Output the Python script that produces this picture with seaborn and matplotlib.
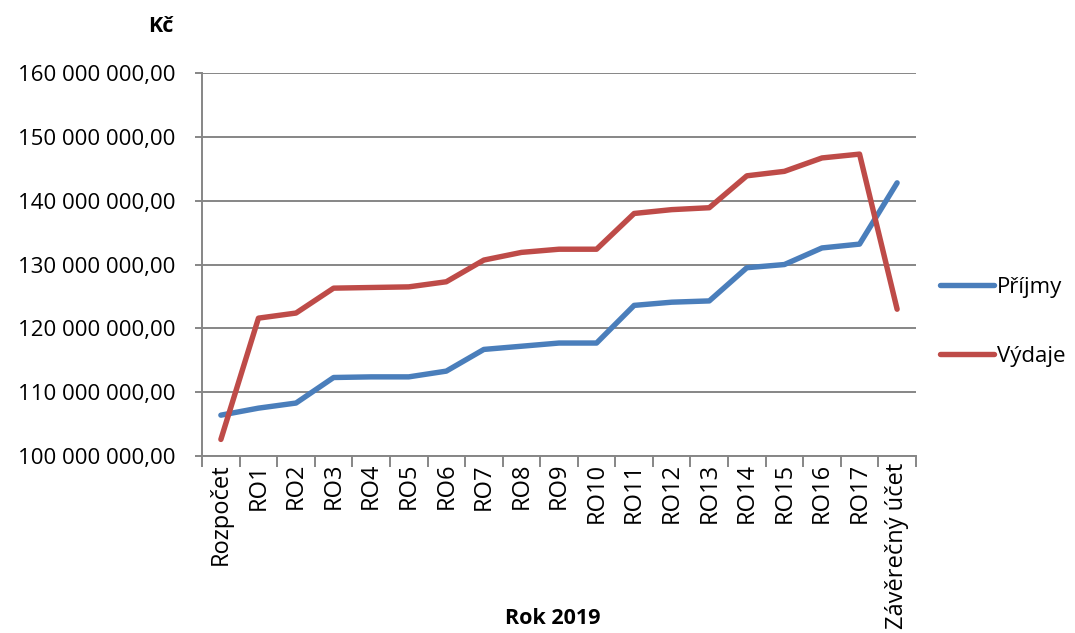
import matplotlib
matplotlib.use("Agg")
import matplotlib.pyplot as plt
from matplotlib.ticker import FuncFormatter, MultipleLocator, FixedLocator
import seaborn as sns
import pandas as pd

categories = ["Rozpočet", "RO1", "RO2", "RO3", "RO4", "RO5", "RO6", "RO7", "RO8",
              "RO9", "RO10", "RO11", "RO12", "RO13", "RO14", "RO15", "RO16", "RO17",
              "Závěrečný účet"]
prijmy = [106.4, 107.5, 108.3, 112.3, 112.4, 112.4, 113.3, 116.7, 117.2, 117.7,
          117.7, 123.6, 124.1, 124.3, 129.5, 130.0, 132.6, 133.2, 142.8]
vydaje = [102.6, 121.6, 122.4, 126.3, 126.4, 126.5, 127.3, 130.7, 131.9, 132.4,
          132.4, 138.0, 138.6, 138.9, 143.9, 144.6, 146.7, 147.3, 123.0]
series_names = ["Příjmy", "Výdaje"]
colors = ["#4A7EBB", "#BE4B48"]

df = pd.DataFrame({
    "kategorie": categories * 2,
    "castka": [v * 1e6 for v in prijmy + vydaje],
    "serie": [series_names[0]] * len(categories) + [series_names[1]] * len(categories),
})

sns.set_theme(style="white")
plt.rcParams["font.family"] = ["Open Sans", "DejaVu Sans"]
plt.rcParams["text.color"] = "black"

fig = plt.figure(figsize=(10.75, 6.33), dpi=100)
ax = fig.add_axes([0.188, 0.2796, 0.664, 0.605])

sns.lineplot(data=df, x="kategorie", y="castka", hue="serie", palette=colors,
             linewidth=3.9, sort=False, ax=ax, legend=True)

ax.set_ylim(100e6, 160e6)
ax.set_xlim(-0.5, len(categories) - 0.5)
ax.yaxis.set_major_locator(MultipleLocator(10e6))

def fmt(v, _):
    return f"{v:,.2f}".replace(",", " ").replace(".", ",")

ax.yaxis.set_major_formatter(FuncFormatter(fmt))
ax.grid(axis="y", color="#868686", linewidth=1.4)
ax.set_axisbelow(True)

for side in ["top", "right"]:
    ax.spines[side].set_visible(False)
for side in ["left", "bottom"]:
    ax.spines[side].set_color("#868686")
    ax.spines[side].set_linewidth(1.4)

ax.set_xticks(range(len(categories)))
ax.set_xticklabels(categories, rotation=90, va="top", ha="center")
ax.xaxis.set_minor_locator(FixedLocator([i - 0.5 for i in range(len(categories) + 1)]))
ax.tick_params(axis="x", which="major", length=0, pad=5, labelsize=17, labelcolor="black")
ax.tick_params(axis="x", which="minor", length=8, width=1.4, color="#868686",
               direction="out", bottom=True)
ax.tick_params(axis="y", which="major", length=5, width=1.4, color="#868686",
               direction="out", labelsize=16, pad=14, labelcolor="black", left=True)

ax.set_xlabel("")
ax.set_ylabel("")
fig.text(553 / 1075, 1 - 618 / 633, "Rok 2019", ha="center", va="center",
         fontsize=15.5, fontweight="bold", color="black")
fig.text(174 / 1075, 1 - 27 / 633, "Kč", ha="right", va="center",
         fontsize=15.5, fontweight="bold", color="black")

handles, labels = ax.get_legend_handles_labels()
ax.legend(handles, labels, loc="center left", bbox_to_anchor=(1.034, 0.35),
          frameon=False, fontsize=16, handlelength=2.4, handletextpad=0.15,
          labelspacing=2.15, borderpad=0, borderaxespad=0)

fig.savefig("out.png", dpi=100)
